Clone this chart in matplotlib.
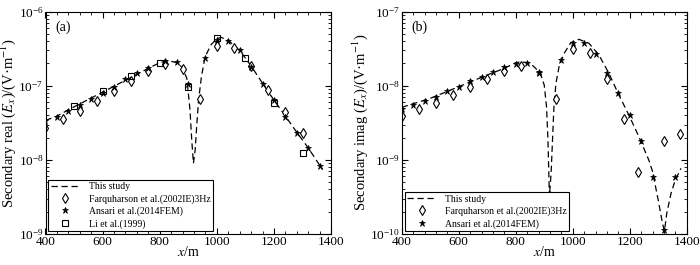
import numpy as np
import matplotlib
matplotlib.use('Agg')
from matplotlib import pyplot as plt
from matplotlib.ticker import MultipleLocator, LogLocator, NullFormatter

plt.rcParams['font.family'] = ['Liberation Serif', 'DejaVu Serif']
plt.rcParams['mathtext.fontset'] = 'stix'

# ---- panel (a): secondary real part ----
line_a_x = [400, 440, 500, 600, 700, 760, 800, 830, 860, 880, 895, 906, 912, 918,
            924, 930, 936, 946, 959, 980, 1000, 1015, 1040, 1080, 1120, 1160, 1200,
            1240, 1280, 1320, 1370]
line_a_y = [3.4e-8, 3.9e-8, 5.2e-8, 8.2e-8, 1.3e-7, 1.72e-7, 2.05e-7, 2.18e-7, 2.05e-7,
            1.75e-7, 1.25e-7, 4.7e-8, 1.85e-8, 9e-9, 1.36e-8, 3.1e-8, 6.4e-8, 1.33e-7,
            2.47e-7, 3.6e-7, 4.3e-7, 4.5e-7, 4.1e-7, 3.0e-7, 1.85e-7, 1.08e-7, 6.4e-8,
            3.9e-8, 2.35e-8, 1.45e-8, 7.4e-9]

farq_a_x = [400, 460, 520, 580, 640, 700, 760, 820, 880, 940, 1000, 1060, 1120, 1180, 1240, 1300]
farq_a_y = [2.67e-8, 3.52e-8, 4.61e-8, 6.3e-8, 8.49e-8, 1.16e-7, 1.58e-7, 1.95e-7, 1.67e-7,
            6.62e-8, 3.44e-7, 3.27e-7, 1.85e-7, 8.77e-8, 4.47e-8, 2.28e-8]

ans_a_x = [400, 440, 480, 520, 560, 600, 640, 680, 720, 760, 820, 860, 900, 960, 1000,
           1040, 1080, 1120, 1160, 1200, 1240, 1280, 1320, 1360]
ans_a_y = [3.35e-8, 3.83e-8, 4.56e-8, 5.44e-8, 6.7e-8, 8.07e-8, 9.73e-8, 1.22e-7, 1.47e-7,
           1.75e-7, 2.16e-7, 2.09e-7, 1.06e-7, 2.39e-7, 4.15e-7, 4.06e-7, 3.04e-7, 1.81e-7,
           1.06e-7, 6.43e-8, 3.83e-8, 2.33e-8, 1.46e-8, 8.36e-9]

li_x = [500, 600, 700, 800, 900, 1000, 1100, 1200, 1300]
li_y = [5.33e-8, 8.49e-8, 1.36e-7, 2.05e-7, 9.53e-8, 4.37e-7, 2.34e-7, 5.91e-8, 1.22e-8]

# ---- panel (b): secondary imaginary part ----
line_b_x = [400, 500, 600, 700, 760, 800, 820, 850, 870, 888, 900, 908, 913, 916, 918,
            924, 929, 934, 941, 952, 970, 993, 1022, 1057, 1092, 1127, 1162, 1197, 1232,
            1267, 1280, 1300, 1315, 1322, 1330, 1345, 1360, 1380]
line_b_y = [5.12e-9, 6.76e-9, 9.72e-9, 1.4e-8, 1.72e-8, 2.05e-8, 2.11e-8, 2.01e-8, 1.72e-8,
            1.4e-8, 1.02e-8, 5.2e-9, 1.85e-9, 6.6e-10, 3.2e-10, 6.6e-10, 1.85e-9, 5.2e-9,
            1.08e-8, 1.81e-8, 2.74e-8, 3.82e-8, 4.23e-8, 3.74e-8, 2.6e-8, 1.47e-8, 7.5e-9,
            4.03e-9, 2.06e-9, 9.95e-10, 7.0e-10, 2.87e-10, 1.39e-10, 1.1e-10, 1.9e-10,
            3.53e-10, 5.35e-10, 7.69e-10]

farq_b_x = [400, 460, 520, 580, 640, 700, 760, 820, 940, 1000, 1060, 1120, 1180, 1230, 1320, 1378]
farq_b_y = [3.91e-9, 4.91e-9, 5.91e-9, 7.59e-9, 9.72e-9, 1.23e-8, 1.6e-8, 1.87e-8, 6.56e-9,
            3.1e-8, 2.74e-8, 1.22e-8, 3.52e-9, 6.79e-10, 1.8e-9, 2.23e-9]

ans_b_x = [400, 440, 480, 520, 560, 600, 640, 680, 720, 760, 800, 840, 880, 880, 920,
           960, 1000, 1040, 1080, 1120, 1160, 1200, 1240, 1280, 1320, 1360]
ans_b_y = [4.81e-9, 5.5e-9, 6.29e-9, 7.13e-9, 8.49e-9, 9.72e-9, 1.16e-8, 1.33e-8, 1.55e-8,
           1.81e-8, 1.97e-8, 2.01e-8, 1.55e-8, 1.47e-8, 3.43e-10, 2.23e-8, 3.74e-8, 3.74e-8,
           2.69e-8, 1.5e-8, 8.07e-9, 4.03e-9, 1.81e-9, 5.93e-10, 1.13e-10, 5.81e-10]

fig = plt.figure(figsize=(7.0, 2.65), dpi=100)
ax1 = fig.add_axes([0.065, 0.117, 0.408, 0.839])
ax2 = fig.add_axes([0.574, 0.117, 0.407, 0.839])

dash = (5, 3)
mk_d = dict(marker='d', ms=5.5, mfc='white', mec='black', mew=0.8, ls='none')
mk_s = dict(marker='*', ms=5, color='black', mew=0.5, ls='none')
mk_q = dict(marker='s', ms=4.2, mfc='none', mec='black', mew=0.8, ls='none')

# (a)
ax1.plot(line_a_x, line_a_y, color='black', lw=0.9, dashes=dash, label='This study')
ax1.plot(farq_a_x, farq_a_y, label='Farquharson et al.(2002IE)3Hz', **mk_d)
ax1.plot(ans_a_x, ans_a_y, label='Ansari et al.(2014FEM)', **mk_s)
ax1.plot(li_x, li_y, label='Li et al.(1999)', **mk_q)
ax1.set_ylim(1e-9, 1e-6)
ax1.set_ylabel('Secondary real ($E_x$)/(V·m$^{-1}$)', fontsize=10.5, labelpad=0)
ax1.text(0.035, 0.93, '(a)', transform=ax1.transAxes, fontsize=10, va='center')

# (b)
ax2.plot(line_b_x, line_b_y, color='black', lw=0.9, dashes=dash, label='This study')
ax2.plot(farq_b_x, farq_b_y, label='Farquharson et al.(2002IE)3Hz', **mk_d)
ax2.plot(ans_b_x, ans_b_y, label='Ansari et al.(2014FEM)', **mk_s)
ax2.set_ylim(1e-10, 1e-7)
ax2.set_ylabel('Secondary imag ($E_x$)/(V·m$^{-1}$)', fontsize=10.5, labelpad=0)
ax2.text(0.035, 0.93, '(b)', transform=ax2.transAxes, fontsize=10, va='center')

for ax in (ax1, ax2):
    ax.set_yscale('log')
    ax.set_xlim(400, 1400)
    ax.xaxis.set_major_locator(MultipleLocator(200))
    ax.xaxis.set_minor_locator(MultipleLocator(40))
    ax.yaxis.set_major_locator(LogLocator(base=10, numticks=10))
    ax.yaxis.set_minor_locator(LogLocator(base=10, subs=np.arange(2, 10), numticks=10))
    ax.yaxis.set_minor_formatter(NullFormatter())
    ax.tick_params(which='both', direction='in', top=True, right=True, labelsize=9.5)
    ax.tick_params(axis='x', pad=1.5)
    ax.tick_params(axis='y', pad=1.5)
    ax.tick_params(which='major', length=4, width=0.8)
    ax.tick_params(which='minor', length=2, width=0.6)
    ax.set_xlabel('$x$/m', fontsize=10, labelpad=-2)
    for sp in ax.spines.values():
        sp.set_linewidth(0.8)
    leg = ax.legend(loc='lower left', fontsize=7, frameon=True, fancybox=False,
                    edgecolor='black', framealpha=1, borderaxespad=0.3,
                    handlelength=3.0, handletextpad=0.9, labelspacing=0.3,
                    borderpad=0.25)
    leg.get_frame().set_linewidth(0.8)

fig.savefig('out.png', dpi=100)
